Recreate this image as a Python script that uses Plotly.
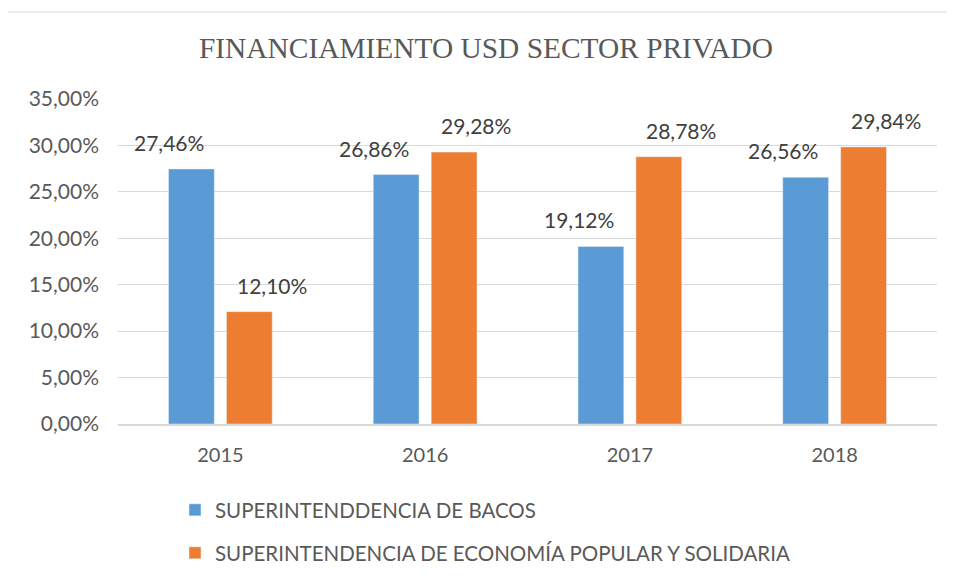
import plotly.graph_objects as go

categories = ["2015", "2016", "2017", "2018"]
series_names = ["SUPERINTENDDENCIA DE BACOS",
                "SUPERINTENDENCIA DE ECONOMÍA POPULAR Y SOLIDARIA"]
bancos = [0.2746, 0.2686, 0.1912, 0.2656]
eps = [0.1210, 0.2928, 0.2878, 0.2984]
colors = ["#5B9BD5", "#ED7D31"]
title_text = "FINANCIAMIENTO USD SECTOR PRIVADO"

# page body adds an 8px offset; work in reference pixel coordinates
OFF = 8
W, H = 955, 579
plot_left, plot_right, plot_top, plot_bottom = 118, 937, 99, 424
L, T = plot_left - OFF, plot_top - OFF
pw, ph = plot_right - plot_left, plot_bottom - plot_top
R, B = W - L - pw, H - T - ph


def px_x(p):
    return (p - plot_left) / pw


def px_y(p):
    return (plot_bottom - p) / ph


fig = go.Figure()
fig.add_trace(go.Bar(x=categories, y=bancos, name=series_names[0],
                     marker_color=colors[0], legend="legend", showlegend=True))
fig.add_trace(go.Bar(x=categories, y=eps, name=series_names[1],
                     marker_color=colors[1], legend="legend2", showlegend=True))

annotations = []
for vals, off in ((bancos, -0.25), (eps, 0.25)):
    for i, (c, v) in enumerate(zip(categories, vals)):
        annotations.append(dict(
            x=i + off, y=v, xref="x", yref="y",
            text=f"{v*100:.2f}%".replace(".", ","),
            showarrow=False, yanchor="bottom", yshift=12,
            font=dict(family="Lato", size=21, color="#404040")))

fig.update_layout(
    width=W, height=H,
    margin=dict(l=L, r=R, t=T, b=B),
    paper_bgcolor="white", plot_bgcolor="white",
    separators=",.",
    showlegend=True,
    barmode="group", bargap=0.434, bargroupgap=0.21,
    title=dict(text=title_text, x=(486 - OFF) / W, xanchor="center",
               y=1 - (48 - OFF) / H, yanchor="middle",
               font=dict(family="Liberation Serif", size=29.4, color="#595959")),
    font=dict(family="Lato", size=20, color="#595959"),
    legend=dict(x=px_x(175), y=px_y(510), xanchor="left", yanchor="middle",
                font=dict(family="Lato", size=20.5, color="#595959"),
                bgcolor="rgba(0,0,0,0)"),
    legend2=dict(x=px_x(175), y=px_y(553), xanchor="left", yanchor="middle",
                 font=dict(family="Lato", size=20.5, color="#595959"),
                 bgcolor="rgba(0,0,0,0)"),
    annotations=annotations,
    shapes=[dict(type="rect", xref="paper", yref="paper",
                 x0=px_x(7), x1=px_x(975), y0=px_y(600), y1=px_y(12),
                 line=dict(color="#D9D9D9", width=1), layer="below")],
)
fig.update_xaxes(type="category", showline=True, linecolor="#D9D9D9", linewidth=2,
                 showgrid=False, ticks="", ticklabelstandoff=12,
                 tickfont=dict(family="Lato", size=20, color="#595959"))
fig.update_yaxes(range=[0, 0.35], dtick=0.05, tickformat=".2%",
                 showgrid=True, gridcolor="#D9D9D9", gridwidth=1,
                 zeroline=False, showline=False, ticks="", ticklabelstandoff=18,
                 tickfont=dict(family="Lato", size=21, color="#595959"))

fig.write_html("out.html")
